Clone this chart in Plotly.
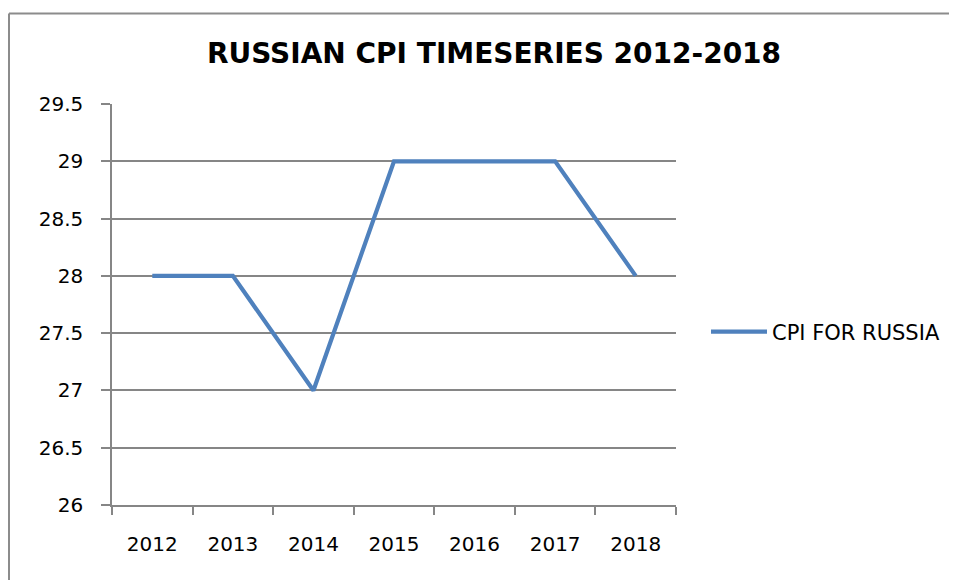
import plotly.graph_objects as go

years = ["2012", "2013", "2014", "2015", "2016", "2017", "2018"]
cpi = [28, 28, 27, 29, 29, 29, 28]
series_name = "CPI FOR RUSSIA"
title_text = "RUSSIAN CPI TIMESERIES 2012-2018"
y_ticks = [26, 26.5, 27, 27.5, 28, 28.5, 29, 29.5]
y_tick_text = ["26", "26.5", "27", "27.5", "28", "28.5", "29", "29.5"]

# page has an 8px body margin: work in screen pixels, convert to figure pixels
OFF = 8
W, H = 957 - OFF, 580 - OFF
L, R, T, B = 112 - OFF, 676 - OFF, 104 - OFF, 505 - OFF
pw, ph = R - L, B - T

def px_x(s):
    return (s - OFF - L) / pw

def px_y(s):
    return (B - (s - OFF)) / ph

LINE_COLOR = "#4F81BD"
GRID = "#868686"
FONT = "DejaVu Sans"

fig = go.Figure()
fig.add_trace(go.Scatter(
    x=years, y=cpi, mode="lines", name=series_name,
    line=dict(color=LINE_COLOR, width=4.2), showlegend=True,
))

fig.update_layout(
    width=W, height=H,
    margin=dict(l=L, r=W - R, t=T, b=H - B, pad=0),
    paper_bgcolor="white", plot_bgcolor="white",
    title=dict(text="<b>" + title_text + "</b>", x=px_x(494), xref="paper",
               y=1 - (53 - OFF) / H, yref="container", xanchor="center", yanchor="middle",
               font=dict(family=FONT, size=28, color="black")),
    font=dict(family=FONT, size=20, color="black"),
    legend=dict(x=px_x(706), y=px_y(332), xanchor="left", yanchor="middle",
                font=dict(family=FONT, size=21, color="black"),
                bgcolor="rgba(0,0,0,0)", itemwidth=56, tracegroupgap=0),
    showlegend=True,
)

fig.update_xaxes(
    type="category", range=[-0.5, 6.5], showgrid=False,
    showline=True, linecolor=GRID, linewidth=1.5,
    ticks="outside", tickson="boundaries", ticklen=8, tickcolor=GRID, tickwidth=1.5,
    ticklabelstandoff=20, tickfont=dict(family=FONT, size=20),
)
fig.update_yaxes(
    range=[26, 29.5], tickvals=y_ticks, ticktext=y_tick_text,
    showgrid=True, gridcolor=GRID, gridwidth=1.5,
    showline=True, linecolor=GRID, linewidth=1.5,
    ticks="outside", ticklen=9, tickcolor=GRID, tickwidth=1.5,
    ticklabelstandoff=14, tickfont=dict(family=FONT, size=20), zeroline=False,
)

# chart-area border (top and left visible)
bx = px_x(9)
by = px_y(13.5)
fig.add_shape(type="line", xref="paper", yref="paper", x0=bx, y0=by, x1=px_x(970), y1=by,
              line=dict(color="#8C8C8C", width=2))
fig.add_shape(type="line", xref="paper", yref="paper", x0=bx, y0=by, x1=bx, y1=px_y(600),
              line=dict(color="#8C8C8C", width=2))

fig.write_html("out.html")
